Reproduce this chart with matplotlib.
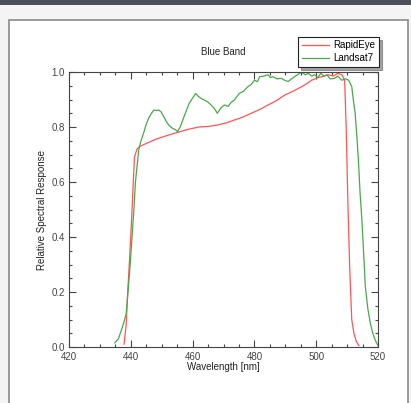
import matplotlib
matplotlib.use("Agg")
import matplotlib.pyplot as plt
from matplotlib.patches import Rectangle
from matplotlib.ticker import MultipleLocator

plt.rcParams['font.family'] = ['Liberation Sans', 'DejaVu Sans']

rapideye_wl = [437.8, 438.5, 439.0, 439.6, 440.2, 440.8, 441.2, 442.0, 443.0, 445.0, 448.0,
               452.0, 455.0, 458.0, 462.0, 465.0, 468.0, 471.0, 473.4, 476.0, 479.0,
               482.0, 484.4, 487.0, 489.8, 492.5, 495.2, 497.0, 498.5, 500.7, 502.5,
               504.0, 505.5, 507.0, 508.3, 509.2, 509.7, 510.2, 510.8, 511.5, 512.2,
               513.0, 513.8]
rapideye_rs = [0.01, 0.08, 0.20, 0.32, 0.45, 0.60, 0.69, 0.72, 0.73, 0.74, 0.755,
               0.77, 0.78, 0.79, 0.80, 0.802, 0.807, 0.815, 0.825, 0.835, 0.85,
               0.865, 0.88, 0.895, 0.916, 0.93, 0.946, 0.958, 0.97, 0.98, 0.985,
               0.99, 0.985, 0.995, 0.99, 0.97, 0.80, 0.55, 0.30, 0.10, 0.05,
               0.02, 0.005]

landsat_wl = [434.8, 436.0, 436.6, 437.5, 438.5, 439.1, 439.8, 440.4, 441.0, 441.5, 442.6,
              443.3, 444.2, 445.0, 445.8, 446.7, 447.5, 448.3, 449.0, 449.8, 450.7,
              451.5, 452.3, 453.5, 454.5, 455.1, 456.0, 457.2, 458.0, 458.9, 460.0,
              461.0, 461.8, 462.7, 463.8, 464.8, 466.0, 467.0, 468.0, 469.2, 470.3,
              471.5, 472.5, 473.5, 474.3, 475.1, 476.5, 477.9, 479.0, 480.0, 481.0,
              481.7, 483.0, 484.4, 485.2, 486.0, 487.3, 488.7, 489.8, 490.9, 492.0,
              493.0, 494.0, 495.2, 496.5, 497.5, 498.5, 499.5, 500.5, 501.5, 502.5,
              503.5, 504.5, 505.9, 507.0, 508.3, 509.5, 510.5, 511.5, 512.0, 512.6,
              513.2, 513.7, 514.2, 514.8, 515.4, 515.9, 516.7, 517.5, 518.3, 519.1,
              520.0]
landsat_rs = [0.015, 0.03, 0.05, 0.08, 0.12, 0.20, 0.30, 0.40, 0.50, 0.60, 0.72,
              0.75, 0.78, 0.81, 0.833, 0.85, 0.862, 0.86, 0.862, 0.855, 0.837,
              0.82, 0.807, 0.795, 0.79, 0.783, 0.80, 0.837, 0.86, 0.886, 0.905,
              0.922, 0.912, 0.904, 0.898, 0.892, 0.88, 0.868, 0.85, 0.87, 0.88,
              0.875, 0.89, 0.898, 0.91, 0.922, 0.93, 0.947, 0.955, 0.97, 0.965,
              0.983, 0.985, 0.99, 0.98, 0.983, 0.975, 0.977, 0.97, 0.965, 0.975,
              0.983, 0.99, 1.0, 0.99, 0.995, 0.985, 0.99, 0.98, 0.995, 0.985,
              0.99, 0.975, 0.977, 0.985, 0.97, 0.975, 0.97, 0.947, 0.90, 0.85,
              0.76, 0.67, 0.56, 0.46, 0.33, 0.22, 0.14, 0.087, 0.05, 0.025,
              0.005]

fig = plt.figure(figsize=(4.11, 4.03), dpi=100, facecolor='#f4f4f4')
# screenshot decorations (behind the axes)
fig.patches.append(Rectangle((0, 1 - 5/403), 1, 5/403, transform=fig.transFigure,
                             facecolor='#4b4f56', edgecolor='none', zorder=-10))
fig.patches.append(Rectangle((8.5/411, -0.01), (408 - 8.5)/411, (403 - 20)/403 + 0.01,
                             transform=fig.transFigure, facecolor='white',
                             edgecolor='#8a8a8a', linewidth=1.2, zorder=-10))

ax = fig.add_axes([69/411, 56/403, 309/411, 275/403])
ax.set_zorder(5)
ax.patch.set_alpha(0)
ax.plot(rapideye_wl, rapideye_rs, color='#ff5555', lw=0.9, label='RapidEye')
ax.plot(landsat_wl, landsat_rs, color='#4aa84a', lw=0.9, label='Landsat7')

ax.set_xlim(420, 520)
ax.set_ylim(0, 1.0)
ax.xaxis.set_major_locator(MultipleLocator(20))
ax.xaxis.set_minor_locator(MultipleLocator(5))
ax.yaxis.set_major_locator(MultipleLocator(0.2))
ax.yaxis.set_minor_locator(MultipleLocator(0.05))
ax.yaxis.set_major_formatter(matplotlib.ticker.FormatStrFormatter('%.1f'))
ax.tick_params(which='both', direction='in', top=True, right=True, colors='#444444',
               labelsize=7, width=0.8)
ax.tick_params(axis='x', which='both', pad=3.5)
ax.tick_params(axis='y', which='both', pad=3)
ax.tick_params(which='major', length=5)
ax.tick_params(which='minor', length=2.5)
for s in ax.spines.values():
    s.set_color('#444444')
    s.set_linewidth(0.8)

ax.set_title('Blue Band', fontsize=7, color='#222222', pad=12)
ax.set_xlabel('Wavelength [nm]', fontsize=7, color='#222222', labelpad=0)
ax.set_ylabel('Relative Spectral Response', fontsize=7, color='#222222', labelpad=3)

leg = ax.legend(loc='upper right', bbox_to_anchor=(379/411, (403 - 37)/403),
                bbox_transform=fig.transFigure, fontsize=7, frameon=True,
                fancybox=False, shadow=True, handlelength=2.8, borderpad=0.35,
                labelspacing=0.3, handletextpad=0.5, borderaxespad=0)
leg.get_frame().set_edgecolor('#222222')
leg.get_frame().set_linewidth(0.8)

fig.savefig('out.png', dpi=100, facecolor=fig.get_facecolor())
